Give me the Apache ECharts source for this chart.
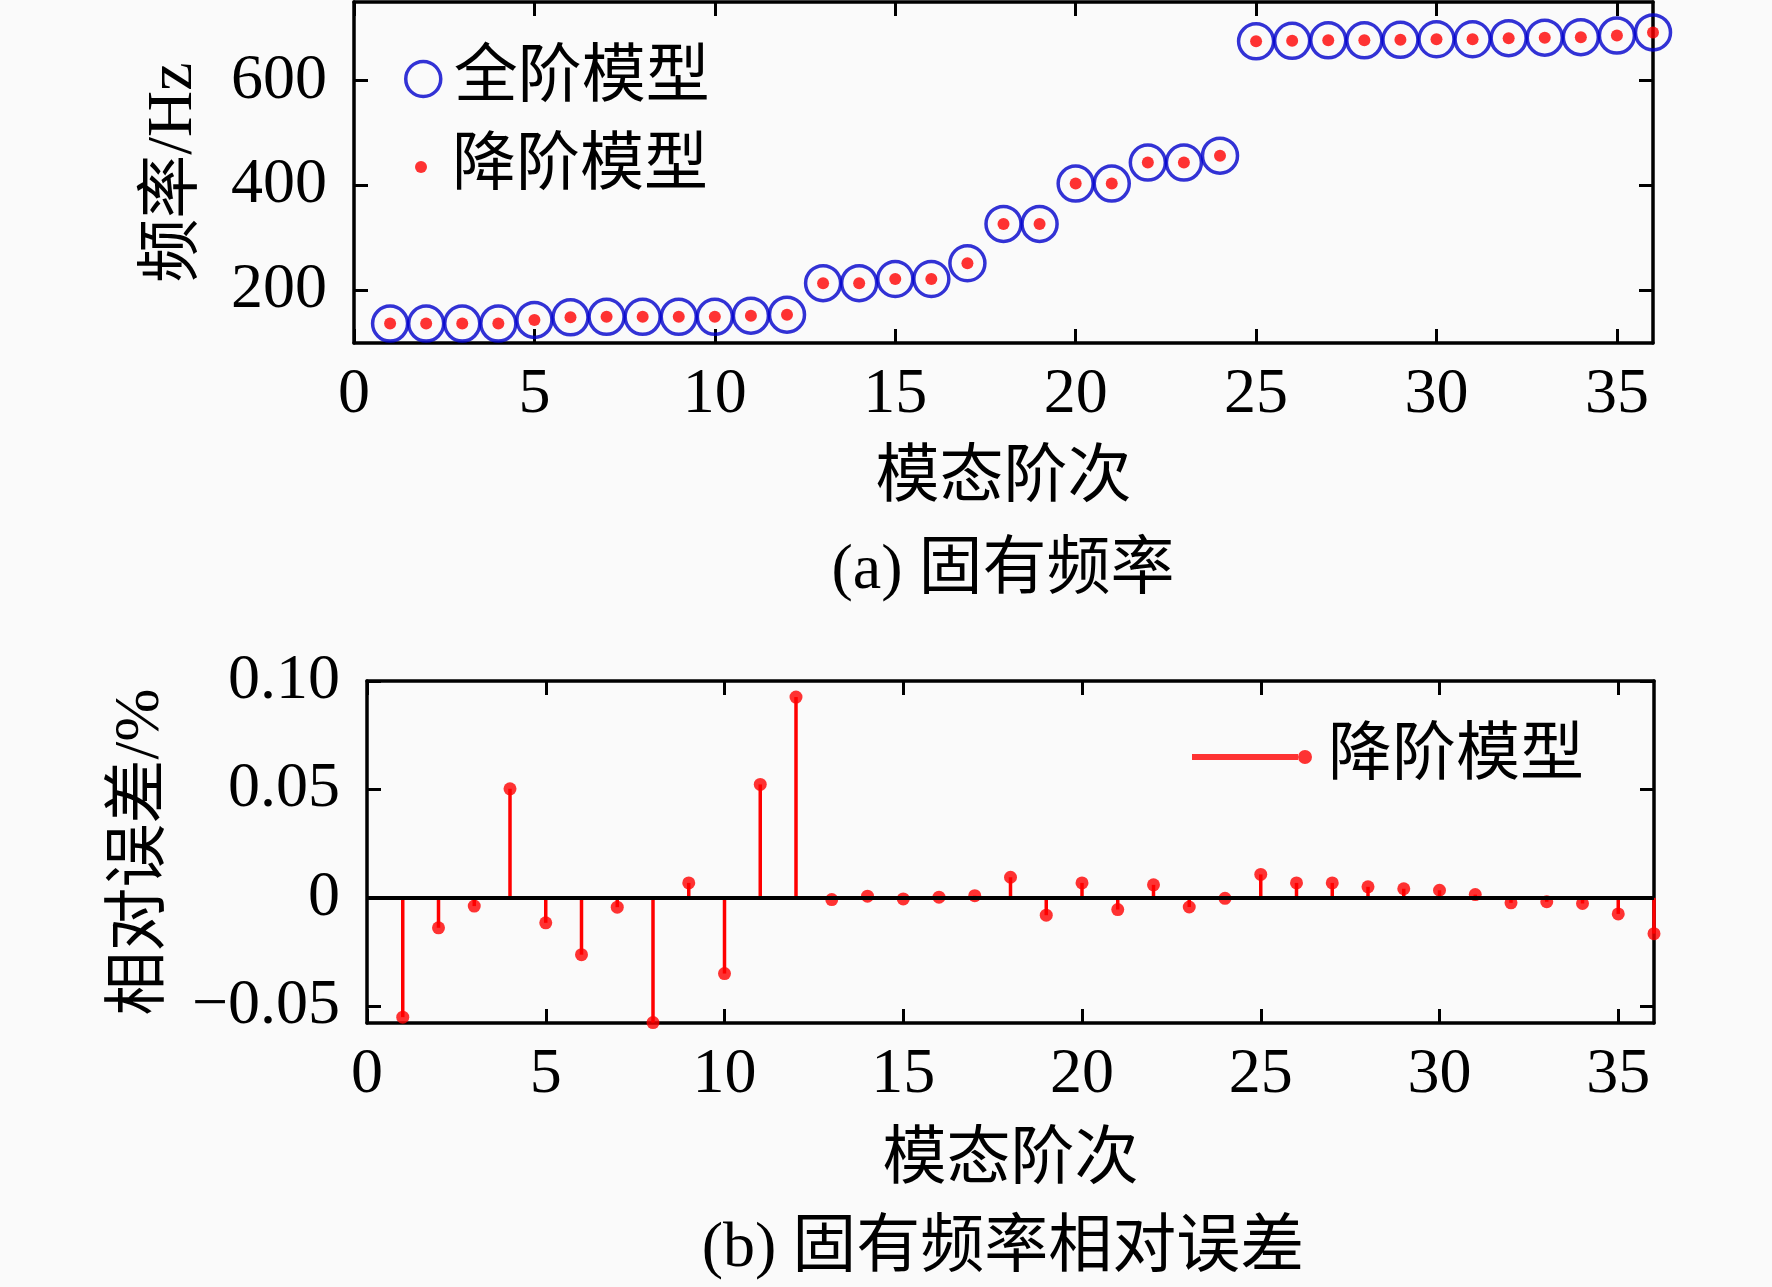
<!DOCTYPE html>
<html>
<head>
<meta charset="utf-8">
<script src="https://cdn.jsdelivr.net/npm/echarts@6/dist/echarts.min.js"></script>
<style>
  html, body { margin: 0; padding: 0; background: #fafafa; }
  #main { width: 1772px; height: 1287px; }
</style>
</head>
<body>
<div id="main"></div>
<script>
// 模态阶次
var modes = [];
for (var i = 1; i <= 36; i++) modes.push(i);

// (a) 固有频率 / Hz
var fullFreq = [137, 137, 137, 137, 144, 149, 150, 150, 150, 150, 152, 154,
                214, 214, 222, 222, 252, 327, 327, 404, 404, 444, 444, 457,
                675, 676, 677, 677, 678, 679, 679, 681, 682, 683, 686, 692];
var reducedFreq = [137, 137, 137, 137, 144, 149, 150, 150, 150, 150, 152, 154,
                   214, 214, 222, 222, 252, 327, 327, 404, 404, 444, 444, 457,
                   675, 676, 677, 677, 678, 679, 679, 681, 682, 683, 686, 692];

// (b) 相对误差 / %
var relErr = [-0.055, -0.0138, -0.0038, 0.0503, -0.0115, -0.0262, -0.0043, -0.0575,
              0.0069, -0.0349, 0.0523, 0.0926, -0.0008, 0.0008, -0.0005, 0.0003,
              0.0010, 0.0095, -0.0080, 0.0069, -0.0054, 0.0060, -0.0042, -0.0002,
              0.0108, 0.0069, 0.0069, 0.0051, 0.0042, 0.0035, 0.0015, -0.0023,
              -0.0018, -0.0026, -0.0074, -0.0165];

// 刻度
var xTicks = [0, 5, 10, 15, 20, 25, 30, 35];
var yTicksA = [200, 400, 600];
var yTicksB = [-0.05, 0, 0.05, 0.10];
var yTickLabelsB = ['\u22120.05', '0', '0.05', '0.10'];

var FONT = '"Liberation Serif", "Noto Sans CJK SC", serif';
var FS = 64;
var RED = '#ff0000';
var BLUE = '#0000cc';

function pairs(xs, ys) {
    return xs.map(function (x, k) { return [x, ys[k]]; });
}

var myChart = echarts.init(document.getElementById('main'));

var lineStyle = { color: '#000', width: 3.5 };
var tickStyle = { show: true, inside: true, length: 14, lineStyle: { color: '#000', width: 3 } };
var labelStyle = { color: '#000', fontFamily: FONT, fontSize: FS };

function xAxisOf(grid, pos, labels, name, gap) {
    return {
        type: 'value', gridIndex: grid, position: pos, min: 0, max: 36,
        axisLine: { show: true, onZero: false, lineStyle: lineStyle },
        axisTick: Object.assign({ customValues: xTicks }, tickStyle),
        axisLabel: labels ? Object.assign({ customValues: xTicks, margin: 20 }, labelStyle) : { show: false },
        splitLine: { show: false },
        name: name || '', nameLocation: 'middle', nameGap: gap || 0,
        nameTextStyle: labelStyle
    };
}

function yAxisOf(grid, pos, min, max, ticks, labels, name, gap, fmt) {
    return {
        type: 'value', gridIndex: grid, position: pos, min: min, max: max,
        axisLine: { show: true, onZero: false, lineStyle: lineStyle },
        axisTick: Object.assign({ customValues: ticks }, tickStyle),
        axisLabel: labels ? Object.assign({ customValues: ticks, margin: 27, formatter: fmt }, labelStyle) : { show: false },
        splitLine: { show: false },
        name: name || '', nameLocation: 'middle', nameGap: gap || 0,
        nameTextStyle: labelStyle
    };
}

// 图例：红线 + 末端圆点
var stemIcon = 'path://M0,4 L106,4 L106,10 L0,10 Z M106,7 A7,7 0 1,1 120,7 A7,7 0 1,1 106,7 Z';

var option = {
    backgroundColor: '#fafafa',
    animation: false,
    grid: [
        { left: 354, top: 2, width: 1299, height: 341 },
        { left: 367, top: 681, width: 1287, height: 342 }
    ],
    xAxis: [
        xAxisOf(0, 'bottom', true, '模态阶次', 104),
        xAxisOf(0, 'top', false),
        xAxisOf(1, 'bottom', true, '模态阶次', 106),
        xAxisOf(1, 'top', false)
    ],
    yAxis: [
        yAxisOf(0, 'left', 100, 750, yTicksA, true, '频率/Hz', 148),
        yAxisOf(0, 'right', 100, 750, yTicksA, false),
        yAxisOf(1, 'left', -0.0577, 0.10, yTicksB, true, '相对误差/%', 194, function (v) {
            var k = yTicksB.indexOf(Math.round(v * 100) / 100);
            return k >= 0 ? yTickLabelsB[k] : '';
        }),
        yAxisOf(1, 'right', -0.0577, 0.10, yTicksB, false)
    ],
    legend: [
        {
            left: 404, top: 44, padding: 0, itemWidth: 35, itemHeight: 35,
            data: [{ name: '全阶模型', icon: 'circle',
                     itemStyle: { color: 'rgba(0,0,0,0)', borderColor: BLUE, borderWidth: 3.5 } }],
            textStyle: { color: '#000', fontFamily: FONT, fontSize: FS, lineHeight: 70, padding: [0, 0, 0, 8] }
        },
        {
            left: 415, top: 132, padding: 0, itemWidth: 12, itemHeight: 12,
            data: [{ name: '降阶模型', icon: 'circle', itemStyle: { color: RED, borderWidth: 0 } }],
            textStyle: { color: '#000', fontFamily: FONT, fontSize: FS, lineHeight: 70, padding: [0, 0, 0, 20] }
        },
        {
            left: 1192, top: 722, padding: 0, itemWidth: 124, itemHeight: 14,
            data: [{ name: '降阶模型', icon: stemIcon, itemStyle: { color: RED, borderWidth: 0 } }],
            textStyle: { color: '#000', fontFamily: FONT, fontSize: FS, lineHeight: 70, padding: [0, 0, 0, 9] }
        }
    ],
    graphic: [
        { type: 'text', x: 1003, y: 571, style: { text: '(a) 固有频率', font: FS + 'px ' + FONT, fill: '#000', textAlign: 'center', textVerticalAlign: 'middle' } },
        { type: 'text', x: 1003, y: 1249, style: { text: '(b) 固有频率相对误差', font: FS + 'px ' + FONT, fill: '#000', textAlign: 'center', textVerticalAlign: 'middle' } }
    ],
    series: [
        {
            name: '全阶模型', type: 'scatter', xAxisIndex: 0, yAxisIndex: 0, clip: false,
            symbol: 'circle', symbolSize: 35,
            itemStyle: { color: 'rgba(0,0,0,0)', borderColor: BLUE, borderWidth: 3.5 },
            data: pairs(modes, fullFreq)
        },
        {
            name: '降阶模型', type: 'scatter', xAxisIndex: 0, yAxisIndex: 0, clip: false,
            symbol: 'circle', symbolSize: 12, z: 3,
            itemStyle: { color: RED },
            data: pairs(modes, reducedFreq)
        },
        {
            name: '降阶模型', type: 'bar', xAxisIndex: 2, yAxisIndex: 2, barWidth: 3.5,
            itemStyle: { color: RED },
            data: pairs(modes, relErr),
            markLine: {
                silent: true, symbol: 'none', label: { show: false },
                lineStyle: { color: '#000', width: 4, type: 'solid' },
                data: [{ yAxis: 0 }]
            }
        },
        {
            name: '降阶模型', type: 'scatter', xAxisIndex: 2, yAxisIndex: 2, clip: false,
            symbol: 'circle', symbolSize: 13, z: 4,
            itemStyle: { color: RED },
            data: pairs(modes, relErr)
        }
    ]
};

myChart.setOption(option);
</script>
</body>
</html>
